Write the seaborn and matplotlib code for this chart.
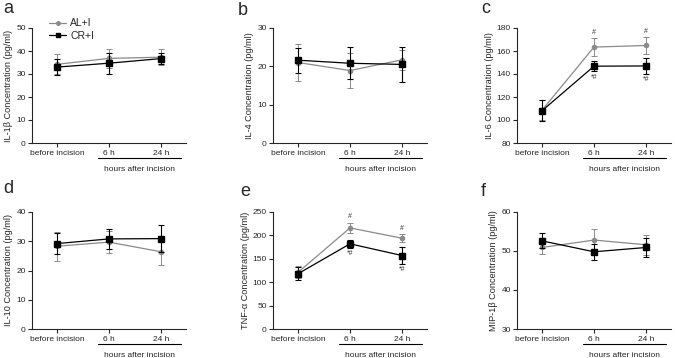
import numpy as np
import pandas as pd
import matplotlib
matplotlib.use("Agg")
import matplotlib.pyplot as plt
import matplotlib.transforms as mtransforms
from matplotlib.lines import Line2D
import seaborn as sns

# data (mean, error)
timepoints = ["before incision", "6 h", "24 h"]
groups = ["AL+I", "CR+I"]

il1b_al = [34.2, 36.8, 37.3]
il1b_al_err = [4.4, 4.2, 3.5]
il1b_cr = [33.0, 34.7, 36.7]
il1b_cr_err = [3.5, 4.6, 2.4]

il4_al = [21.0, 18.9, 21.7]
il4_al_err = [4.7, 4.5, 2.6]
il4_cr = [21.6, 20.8, 20.5]
il4_cr_err = [3.3, 4.2, 4.5]

il6_al = [108.5, 163.4, 164.8]
il6_al_err = [8.5, 7.5, 7.0]
il6_cr = [108.0, 146.8, 147.0]
il6_cr_err = [9.0, 4.5, 7.0]

il10_al = [28.3, 29.7, 26.4]
il10_al_err = [4.9, 3.8, 4.5]
il10_cr = [29.2, 30.8, 30.9]
il10_cr_err = [3.5, 3.5, 4.5]

tnf_al = [121.0, 216.0, 194.0]
tnf_al_err = [13.0, 11.0, 9.0]
tnf_cr = [118.0, 182.0, 157.0]
tnf_cr_err = [14.0, 9.0, 18.0]

mip_al = [50.9, 52.8, 51.6]
mip_al_err = [1.7, 2.9, 2.6]
mip_cr = [52.6, 49.8, 50.9]
mip_cr_err = [1.9, 2.0, 2.5]

panels = [
    ("a", "IL-1\u03b2 Concentration (pg/ml)", il1b_al, il1b_al_err, il1b_cr, il1b_cr_err, (0, 50), 10, False),
    ("b", "IL-4 Concentration (pg/ml)", il4_al, il4_al_err, il4_cr, il4_cr_err, (0, 30), 10, False),
    ("c", "IL-6 Concentration (pg/ml)", il6_al, il6_al_err, il6_cr, il6_cr_err, (80, 180), 20, True),
    ("d", "IL-10 Concentration (pg/ml)", il10_al, il10_al_err, il10_cr, il10_cr_err, (0, 40), 10, False),
    ("e", "TNF-\u03b1 Concentration (pg/ml)", tnf_al, tnf_al_err, tnf_cr, tnf_cr_err, (0, 250), 50, True),
    ("f", "MIP-1\u03b2 Concentration (pg/ml)", mip_al, mip_al_err, mip_cr, mip_cr_err, (30, 60), 10, False),
]

sns.set_style("ticks")
plt.rcParams["font.family"] = ["Liberation Sans", "DejaVu Sans"]
plt.rcParams["axes.linewidth"] = 0.8
plt.rcParams["xtick.major.width"] = 0.8
plt.rcParams["ytick.major.width"] = 0.8
plt.rcParams["xtick.major.size"] = 3
plt.rcParams["ytick.major.size"] = 3

fig = plt.figure(figsize=(6.75, 3.58), dpi=100)

W, H = 675, 358
lefts = [32, 273, 517]
tops = [28, 212]
bottoms = [143, 329]
ax_w = 154
# panel letter positions (pixels, baseline)
letter_xy = [(3, 13), (238, 15), (481, 13), (3, 193), (240, 196), (481, 196)]

gray = "#8a8a8a"
pos = np.arange(3)

for i, (letter, ylabel, al, al_e, cr, cr_e, ylim, step, stars) in enumerate(panels):
    r, c = divmod(i, 3)
    ax = fig.add_axes([lefts[c] / W, 1 - bottoms[r] / H, ax_w / W, (bottoms[r] - tops[r]) / H])
    df = pd.DataFrame({
        "x": np.concatenate([pos, pos]),
        "value": al + cr,
        "group": [groups[0]] * 3 + [groups[1]] * 3,
    })
    sns.lineplot(data=df, x="x", y="value", hue="group",
                 palette={"AL+I": gray, "CR+I": "black"},
                 linewidth=0.9, ax=ax, legend=False)
    ax.errorbar(pos, al, yerr=al_e, fmt="o", color=gray, ms=3, capsize=2,
                elinewidth=0.7, capthick=0.7, zorder=3)
    ax.errorbar(pos, cr, yerr=cr_e, fmt="s", color="black", ms=4.2, capsize=2,
                elinewidth=0.8, capthick=0.8, zorder=4)
    if stars:
        span = ylim[1] - ylim[0]
        for k in (1, 2):
            ax.text(k, al[k] + al_e[k] + span * 0.02, "#",
                    ha="center", va="bottom", fontsize=5, color="#333333")
            ax.text(k, cr[k] - cr_e[k] - span * 0.02, "*#",
                    ha="center", va="top", fontsize=5, color="#333333")
    ax.set_xlim(-0.48, 2.48)
    ax.set_ylim(*ylim)
    ax.set_yticks(np.arange(ylim[0], ylim[1] + 0.1, step))
    ax.set_xticks(pos)
    ax.set_xticklabels(timepoints, fontsize=6)
    ax.tick_params(axis="y", labelsize=6, pad=1.5)
    ax.tick_params(axis="x", pad=2)
    ax.set_xlabel("")
    ax.set_ylabel(ylabel, fontsize=6.6, labelpad=2)
    sns.despine(ax=ax)
    trans = mtransforms.blended_transform_factory(ax.transData, ax.transAxes)
    ax.plot([0.78, 2.38], [-0.13, -0.13], color="black", lw=0.8, transform=trans, clip_on=False)
    ax.text(1.58, -0.2, "hours after incision", ha="center", va="top", fontsize=6, transform=trans)
    lx, ly = letter_xy[i]
    fig.text(lx / W, 1 - ly / H, letter, fontsize=13, ha="left", va="baseline")

    if i == 0:
        handles = [Line2D([], [], color=gray, marker="o", ms=2.5, lw=0.9),
                   Line2D([], [], color="black", marker="s", ms=3.5, lw=0.9)]
        fig.legend(handles, groups, loc="upper left", bbox_to_anchor=(44 / W, 1 - 13 / H),
                   frameon=False, fontsize=7.5, handlelength=1.6, handletextpad=0.4,
                   labelspacing=0.25, borderpad=0)

fig.savefig("out.png", dpi=100)
